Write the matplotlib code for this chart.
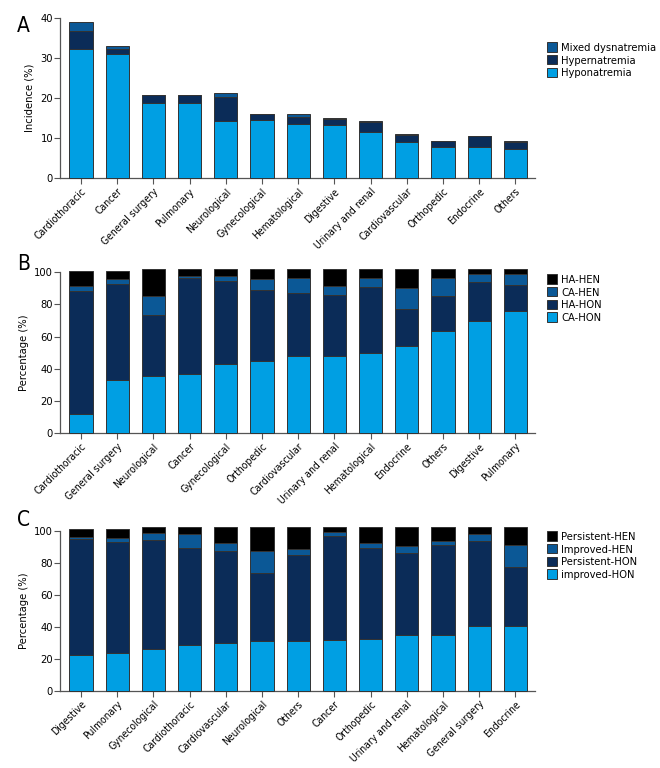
import matplotlib
matplotlib.use("Agg")
import matplotlib.pyplot as plt
import numpy as np

plt.rcParams['font.family'] = ['DejaVu Sans']
plt.rcParams['font.stretch'] = 'condensed'

# Panel A: incidence (%)
cats_a = ['Cardiothoracic', 'Cancer', 'General surgery', 'Pulmonary', 'Neurological',
          'Gynecological', 'Hematological', 'Digestive', 'Urinary and renal',
          'Cardiovascular', 'Orthopedic', 'Endocrine', 'Others']
hypo = [32.1, 31.0, 18.6, 18.6, 14.3, 14.4, 13.5, 13.1, 11.5, 9.0, 7.8, 7.8, 7.2]
hyper = [4.5, 1.2, 2.0, 2.0, 5.9, 1.5, 1.7, 1.7, 2.5, 1.8, 1.4, 2.6, 1.9]
mixed = [2.2, 0.8, 0.2, 0.2, 1.1, 0.1, 0.7, 0.1, 0.1, 0.1, 0.1, 0.1, 0.1]

# Panel B: percentage (%)
cats_b = ['Cardiothoracic', 'General surgery', 'Neurological', 'Cancer', 'Gynecological',
          'Orthopedic', 'Cardiovascular', 'Urinary and renal', 'Hematological',
          'Endocrine', 'Others', 'Digestive', 'Pulmonary']
ca_hon = [11.8, 33.2, 35.3, 36.7, 43.2, 45.0, 48.1, 48.1, 49.8, 54.4, 63.5, 69.7, 76.1]
ha_hon = [76.8, 59.5, 38.1, 59.6, 51.4, 44.2, 39.0, 37.6, 41.1, 22.8, 21.6, 24.1, 16.2]
ca_hen = [3.1, 3.4, 11.7, 1.2, 2.9, 6.7, 9.4, 6.0, 5.6, 12.8, 11.2, 5.0, 6.5]
ha_hen = [9.3, 4.7, 16.8, 4.4, 4.4, 6.0, 5.4, 10.2, 5.4, 11.9, 5.6, 3.1, 3.1]

# Panel C: percentage (%)
cats_c = ['Digestive', 'Pulmonary', 'Gynecological', 'Cardiothoracic', 'Cardiovascular',
          'Neurological', 'Others', 'Cancer', 'Orthopedic', 'Urinary and renal',
          'Hematological', 'General surgery', 'Endocrine']
imp_hon = [22.5, 23.5, 26.3, 28.5, 29.8, 30.8, 31.0, 31.9, 32.5, 34.6, 34.6, 40.4, 40.4]
per_hon = [72.1, 69.6, 67.9, 60.5, 57.5, 42.7, 54.0, 64.8, 56.5, 51.2, 56.6, 53.1, 36.9]
imp_hen = [1.7, 2.1, 4.6, 8.7, 5.0, 14.0, 3.8, 2.5, 3.1, 4.6, 2.3, 4.6, 14.0]
per_hen = [4.7, 5.8, 3.3, 4.4, 9.8, 14.6, 13.3, 2.9, 10.0, 11.7, 8.6, 4.0, 10.8]

light = '#009fe3'
navy = '#0b2c58'
mid = '#0b5896'
black = '#000000'
edge = '#333333'

fig = plt.figure(figsize=(6.6, 7.68), dpi=100)


def stacked(rect, cats, series, colors, labels, ymax, ylabel, letter, letter_y, leg_y):
    ax = fig.add_axes(rect)
    x = np.arange(len(cats))
    bottom = np.zeros(len(cats))
    handles = []
    for vals, col, lab in zip(series, colors, labels):
        b = ax.bar(x, vals, width=0.64, bottom=bottom, color=col, edgecolor=edge,
                   linewidth=0.7, label=lab, clip_on=False, zorder=3)
        bottom += np.array(vals)
        handles.append(b)
    ax.set_xlim(-0.58, len(cats) - 0.46)
    ax.set_ylim(0, ymax)
    ax.set_yticks(np.linspace(0, ymax, 5 if ymax == 40 else 6))
    ax.set_xticks(x)
    ax.set_xticklabels(cats, rotation=45, ha='right', rotation_mode='anchor', fontsize=7.5)
    ax.tick_params(axis='y', labelsize=8, length=4, width=0.8, color='#555555', pad=1)
    ax.tick_params(axis='x', length=4, width=0.8, color='#555555', pad=2)
    for s in ['top', 'right']:
        ax.spines[s].set_visible(False)
    for s in ['left', 'bottom']:
        ax.spines[s].set_color('#555555')
        ax.spines[s].set_linewidth(0.9)
    ax.set_ylabel(ylabel, fontsize=8, labelpad=4)
    fig.text(0.026, letter_y, letter, fontsize=15, va='top', ha='left')
    fig.legend(handles[::-1], labels[::-1], loc='upper left', bbox_to_anchor=(0.822, leg_y),
               frameon=False, fontsize=8, handlelength=0.9, handleheight=0.9,
               handletextpad=0.4, labelspacing=0.2, borderaxespad=0)
    return ax


stacked([0.0909, 0.7682, 0.7197, 0.209], cats_a, [hypo, hyper, mixed], [light, navy, mid],
        ['Hyponatremia', 'Hypernatremia', 'Mixed dysnatremia'], 40, 'Incidence (%)',
        'A', 1 - 16 / 768, 1 - 38 / 768)
stacked([0.0909, 0.4362, 0.7197, 0.2092], cats_b, [ca_hon, ha_hon, ca_hen, ha_hen],
        [light, navy, mid, black], ['CA-HON', 'HA-HON', 'CA-HEN', 'HA-HEN'], 100,
        'Percentage (%)', 'B', 1 - 254 / 768, 1 - 270 / 768)
stacked([0.0909, 0.1007, 0.7197, 0.2083], cats_c, [imp_hon, per_hon, imp_hen, per_hen],
        [light, navy, mid, black], ['improved-HON', 'Persistent-HON', 'Improved-HEN', 'Persistent-HEN'],
        100, 'Percentage (%)', 'C', 1 - 510 / 768, 1 - 527 / 768)

fig.savefig('out.png', dpi=100)
